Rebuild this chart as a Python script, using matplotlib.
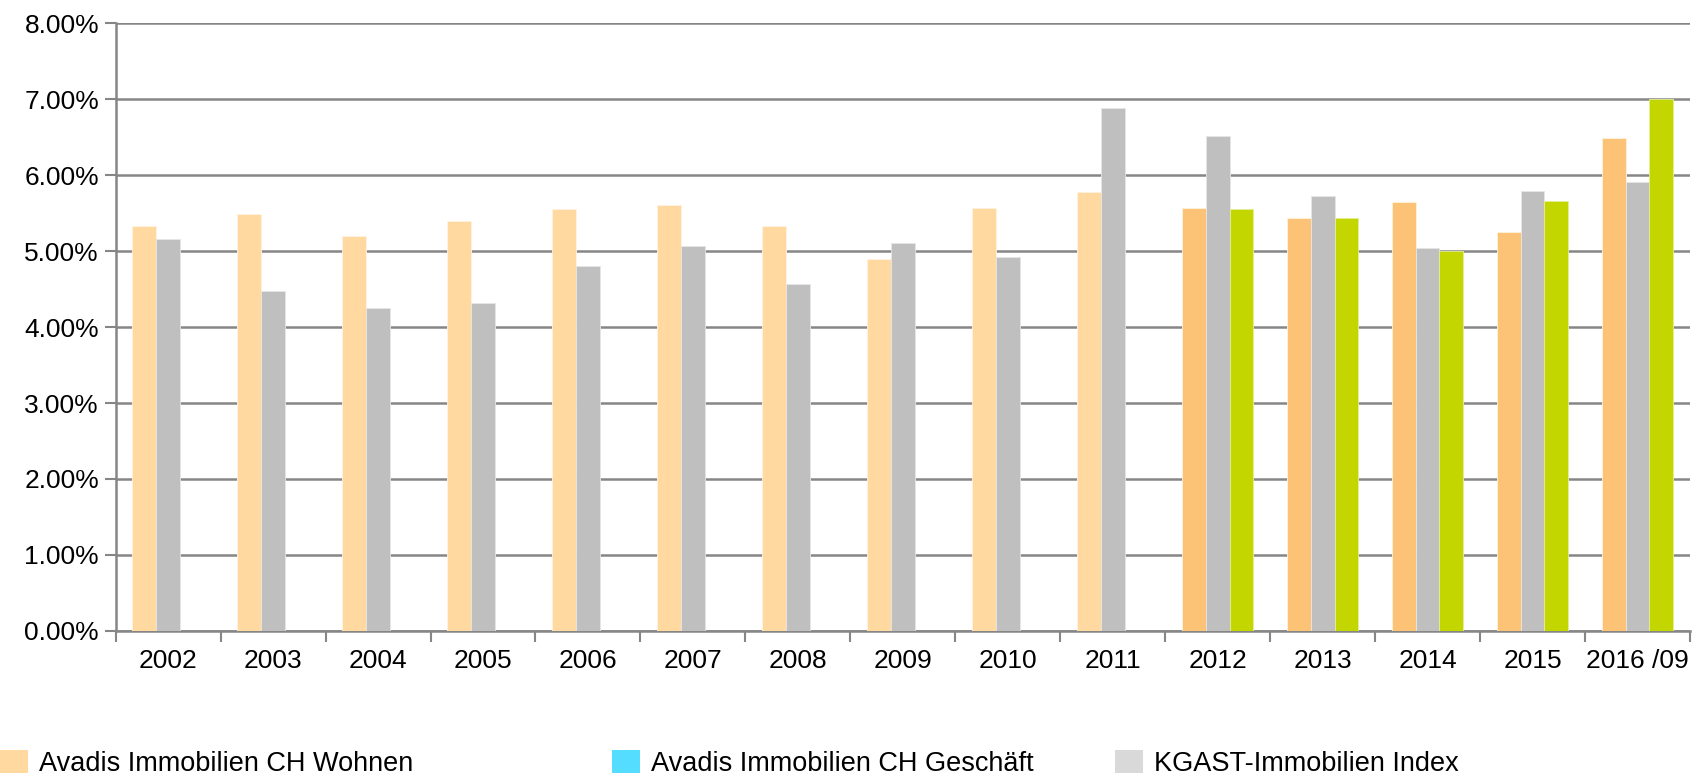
import numpy as np
import matplotlib as mpl
mpl.use('agg')
import matplotlib.pyplot as plt
from matplotlib.patches import Patch
from matplotlib.ticker import FuncFormatter

years = ['2002', '2003', '2004', '2005', '2006', '2007', '2008', '2009',
         '2010', '2011', '2012', '2013', '2014', '2015', '2016 /09']

# Avadis Immobilien CH Wohnen (%)
wohnen = [5.33, 5.49, 5.20, 5.40, 5.56, 5.61, 5.33, 4.90,
          5.57, 5.78, 5.57, 5.43, 5.65, 5.25, 6.49]
# KGAST-Immobilien Index (%)
kgast = [5.16, 4.48, 4.25, 4.32, 4.80, 5.07, 4.57, 5.11,
         4.92, 6.88, 6.51, 5.73, 5.04, 5.79, 5.91]
# green series (only from 2012)
gruen = [np.nan] * 10 + [5.56, 5.43, 5.00, 5.66, 7.00]

c_light = '#FFD9A0'
c_orange = '#FCC275'
c_gray = '#BFBFBF'
c_green = '#C4D600'
c_cyan = '#55DDFF'
c_legend_gray = '#D9D9D9'
c_grid = '#868686'

plt.rcParams['font.family'] = ['Liberation Sans', 'DejaVu Sans']
fs = 19

fig = plt.figure(figsize=(17.01, 7.76), dpi=100)
ax = fig.add_axes([0.068, 0.187, 0.9255, 0.783])

x = np.arange(len(years))
w = 0.227
orange_cols = [c_light] * 10 + [c_orange] * 5
ax.bar(x - w, wohnen, w, color=orange_cols, edgecolor='#FFF3E0', linewidth=0.6, zorder=3)
ax.bar(x, kgast, w, color=c_gray, edgecolor='#E6E6E6', linewidth=0.6, zorder=3)
ax.bar(x + w, gruen, w, color=c_green, edgecolor='#E4EE99', linewidth=0.6, zorder=3)

ax.set_xlim(-0.5, len(years) - 0.5)
ax.set_ylim(0, 8)
ax.set_yticks(np.arange(0, 9, 1))
ax.yaxis.set_major_formatter(FuncFormatter(lambda v, p: '%.2f%%' % v))
ax.set_xticks(x)
ax.set_xticklabels(years)
ax.set_xticks(np.arange(-0.5, len(years), 1), minor=True)
ax.tick_params(axis='x', which='major', length=0, pad=13, labelsize=fs)
ax.tick_params(axis='x', which='minor', length=8, width=1.5, color=c_grid)
ax.tick_params(axis='y', length=8, width=1.5, color=c_grid, labelsize=fs, pad=4)

ax.grid(axis='y', color=c_grid, linewidth=1.8, zorder=0)
for s in ['top', 'right']:
    ax.spines[s].set_visible(False)
for s in ['left', 'bottom']:
    ax.spines[s].set_color(c_grid)
    ax.spines[s].set_linewidth(1.8)

# legend entries, placed like the original
entries = [(c_light, 'Avadis Immobilien CH Wohnen', 0.0),
           (c_cyan, 'Avadis Immobilien CH Geschäft', 0.3595),
           (c_legend_gray, 'KGAST-Immobilien Index', 0.6555)]
for col, lab, xpos in entries:
    fig.legend(handles=[Patch(facecolor=col, label=lab)], loc='center left',
               bbox_to_anchor=(xpos, 0.016), frameon=False, fontsize=fs + 0.5,
               handlelength=1.05, handleheight=0.95, handletextpad=0.4, borderaxespad=0,
               borderpad=0)

fig.savefig('out.png', dpi=100)
